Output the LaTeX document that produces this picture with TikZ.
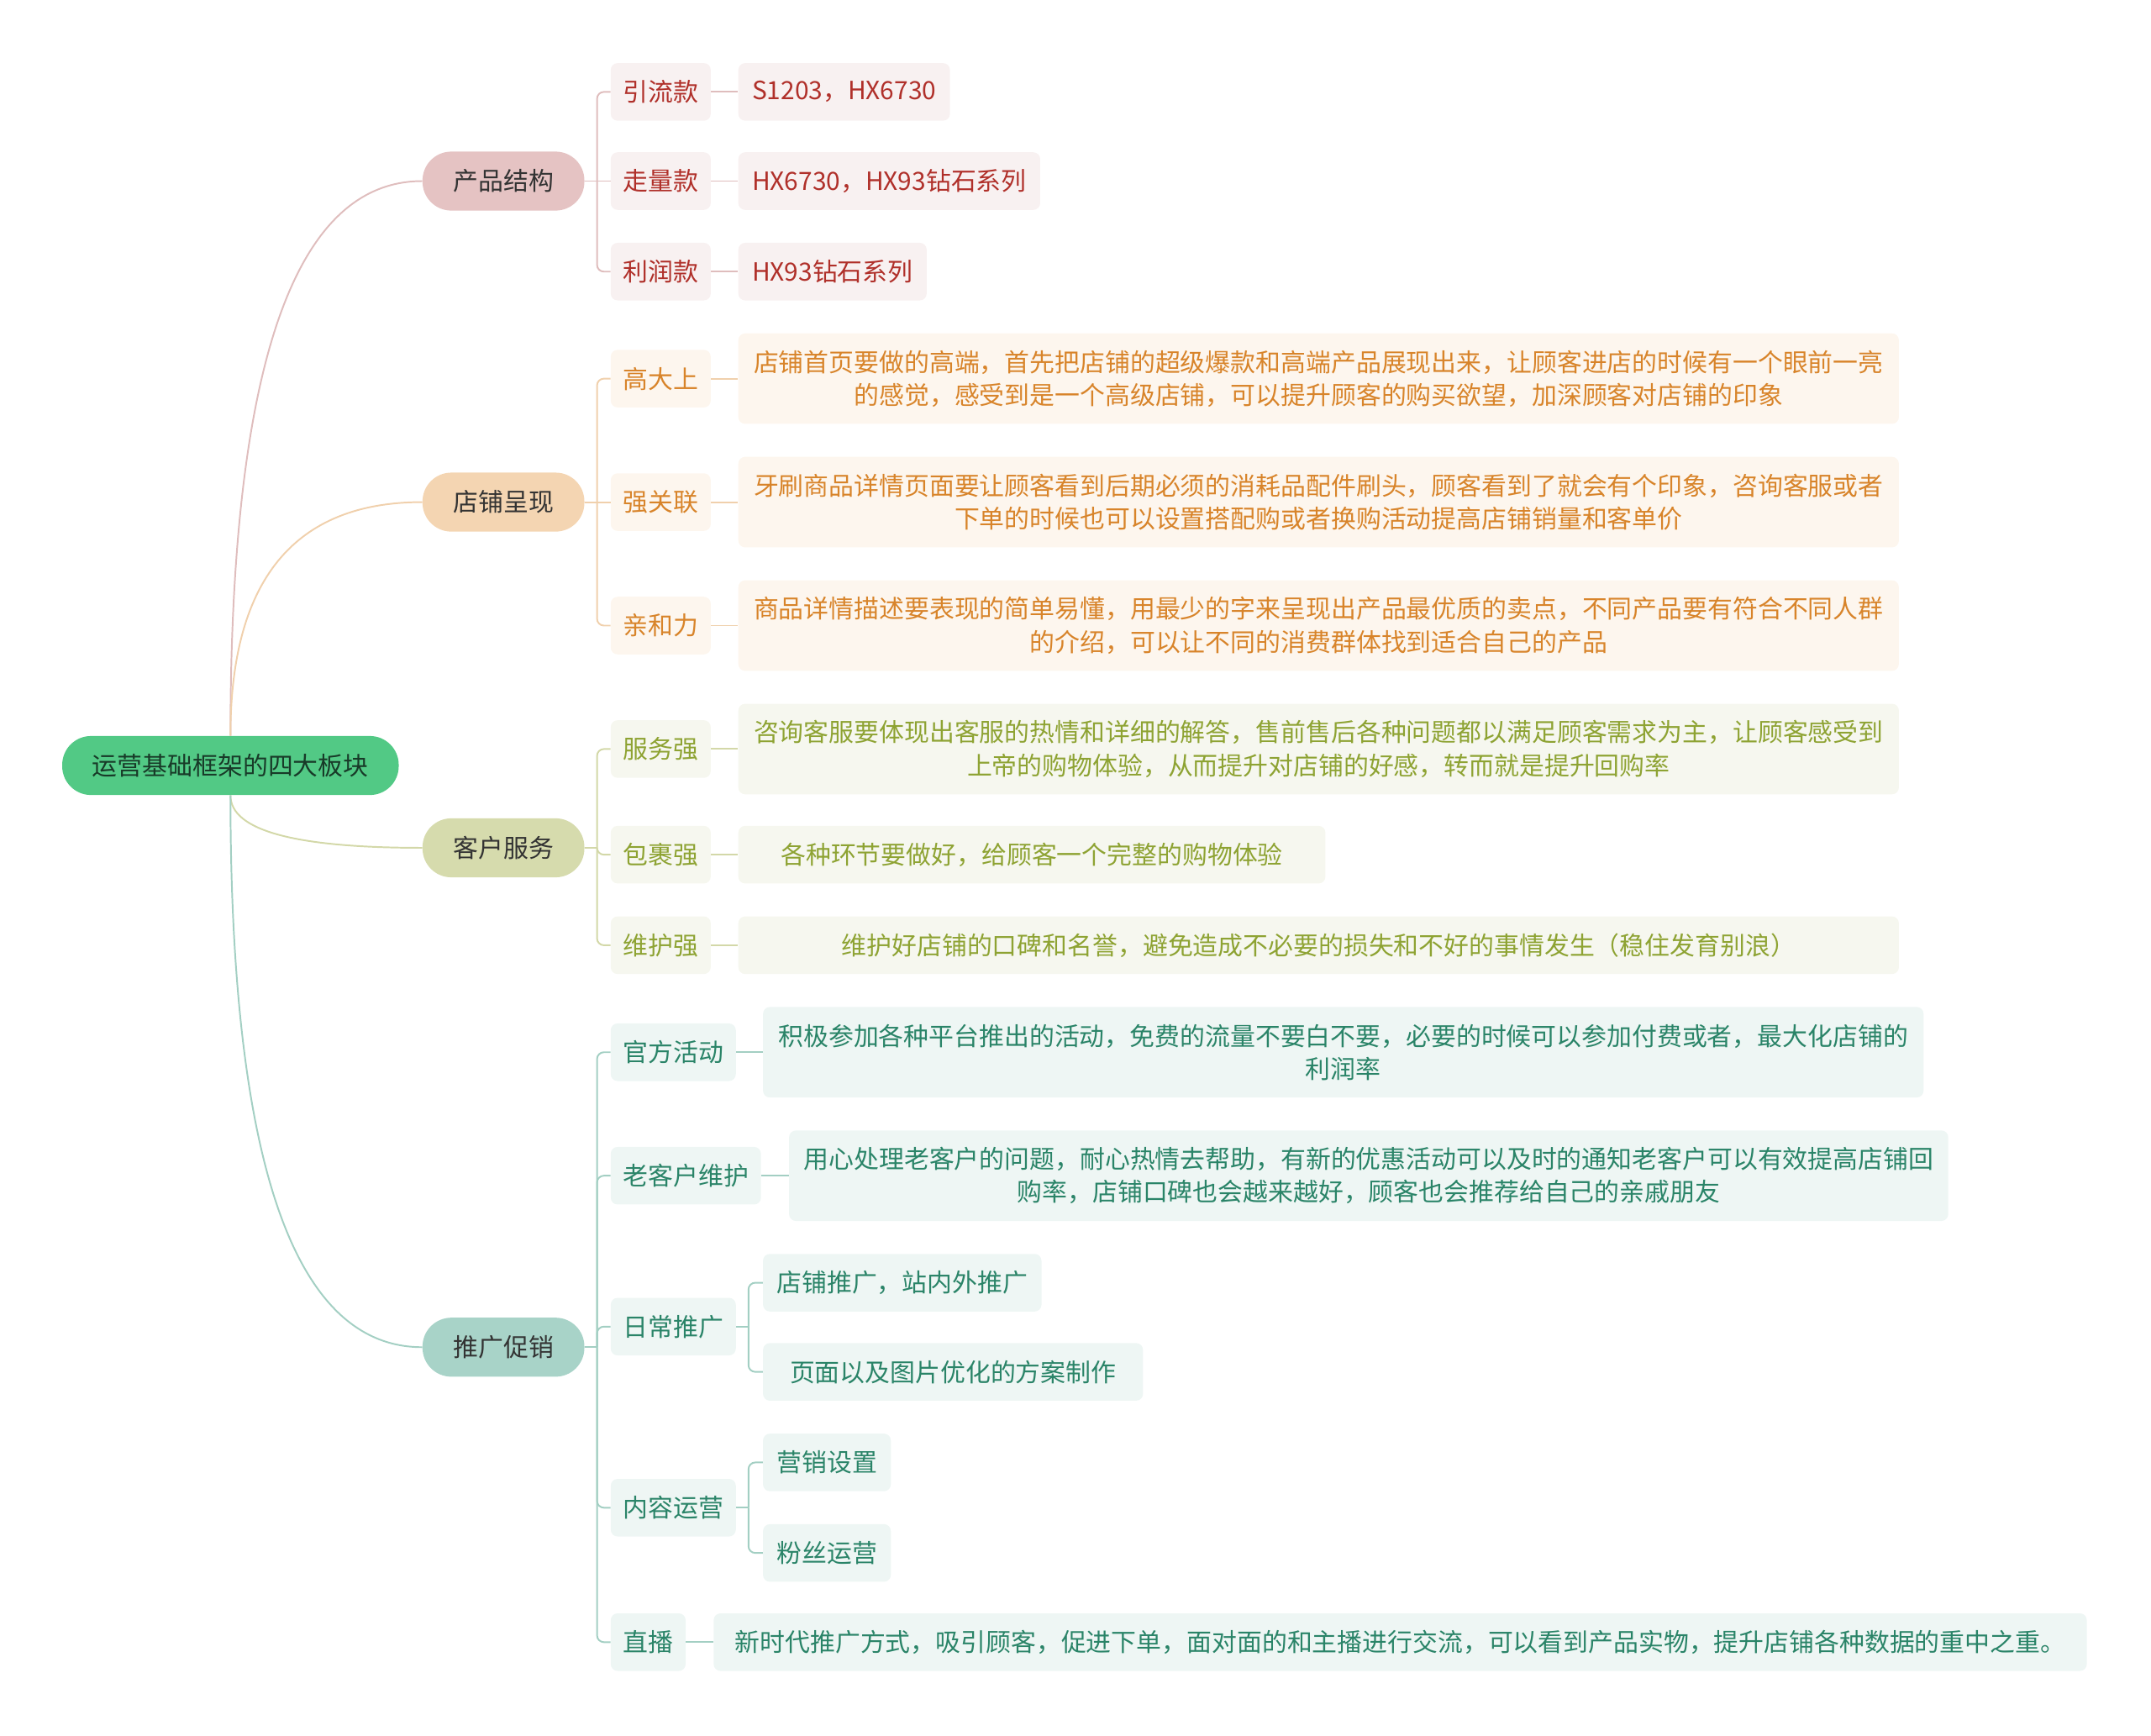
\documentclass[tikz,border=0pt]{standalone}
\usepackage{fontspec}
\setmainfont{Noto Sans CJK SC}
\usetikzlibrary{calc}

\definecolor{rootfill}{HTML}{52C985}
\definecolor{rootink}{HTML}{183A28}
\definecolor{topicink}{HTML}{333333}
% 产品结构
\definecolor{prodpill}{HTML}{E5C3C3}
\definecolor{prodink}{HTML}{B0302A}
\definecolor{prodbox}{HTML}{F8F1F1}
\definecolor{prodline}{HTML}{DFBDBD}
% 店铺呈现
\definecolor{shoppill}{HTML}{F4D5B2}
\definecolor{shopink}{HTML}{D8842A}
\definecolor{shopbox}{HTML}{FDF6EE}
\definecolor{shopline}{HTML}{F0D0AC}
% 客户服务
\definecolor{servpill}{HTML}{D6DBAD}
\definecolor{servink}{HTML}{8EA333}
\definecolor{servbox}{HTML}{F6F7EF}
\definecolor{servline}{HTML}{D3D8A8}
% 推广促销
\definecolor{prompill}{HTML}{A8D3C8}
\definecolor{promink}{HTML}{2A8468}
\definecolor{prombox}{HTML}{EEF6F4}
\definecolor{promline}{HTML}{A3CFC3}

\begin{document}
\begin{tikzpicture}[
    x=1pt, y=-1pt, font=\fontsize{18.3}{24}\selectfont,
    rootnode/.style={fill=rootfill, text=rootink, rounded corners=21pt, minimum height=43pt, inner xsep=22pt},
    topicnode/.style={text=topicink, rounded corners=21pt, minimum height=43pt, minimum width=118pt},
    subnode/.style={anchor=west, rounded corners=5pt, minimum height=42pt, inner xsep=9pt},
    leafnode/.style={subnode, inner xsep=10pt, align=center},
    widenode/.style={leafnode, minimum height=66pt},
    prodcol/.style={fill=prodbox, text=prodink},
    shopcol/.style={fill=shopbox, text=shopink},
    servcol/.style={fill=servbox, text=servink},
    promcol/.style={fill=prombox, text=promink},
    link/.style={line width=1.2pt},
    forklink/.style={link, rounded corners=5pt}
]
    \useasboundingbox (0,0) rectangle (1568,1265);

    % root and main topics
    \node[rootnode] (root) at (168,558) {运营基础框架的四大板块};
    \node[topicnode, fill=prodpill] (cpjg) at (367,132) {产品结构};
    \node[topicnode, fill=shoppill] (dpcx) at (367,366) {店铺呈现};
    \node[topicnode, fill=servpill] (khfw) at (367,618) {客户服务};
    \node[topicnode, fill=prompill] (tgcx) at (367,982) {推广促销};

    \coordinate (cpjg-c) at (root.north |- cpjg.west);
    \coordinate (dpcx-c) at (root.north |- dpcx.west);
    \coordinate (khfw-c) at (root.south |- khfw.west);
    \coordinate (tgcx-c) at (root.south |- tgcx.west);
    \draw[link, prodline] (root.north) .. controls ($(root.north)!0.667!(cpjg-c)$) and ($(cpjg.west)!0.667!(cpjg-c)$) .. (cpjg.west);
    \draw[link, shopline] (root.north) .. controls ($(root.north)!0.667!(dpcx-c)$) and ($(dpcx.west)!0.667!(dpcx-c)$) .. (dpcx.west);
    \draw[link, servline] (root.south) .. controls ($(root.south)!0.667!(khfw-c)$) and ($(khfw.west)!0.667!(khfw-c)$) .. (khfw.west);
    \draw[link, promline] (root.south) .. controls ($(root.south)!0.667!(tgcx-c)$) and ($(tgcx.west)!0.667!(tgcx-c)$) .. (tgcx.west);

    % 产品结构
    \node[subnode, prodcol] (ylk) at (445,67) {引流款};
    \node[subnode, prodcol] (zlk) at (445,132) {走量款};
    \node[subnode, prodcol] (lrk) at (445,198) {利润款};
    \node[leafnode, prodcol] (ylk-t) at (538,67) {S1203，HX6730};
    \node[leafnode, prodcol] (zlk-t) at (538,132) {HX6730，HX93钻石系列};
    \node[leafnode, prodcol] (lrk-t) at (538,198) {HX93钻石系列};

    \coordinate (cpjg-f) at ([xshift=9pt]cpjg.east);
    \draw[link, prodline] (cpjg.east) -- (zlk.west);
    \foreach \c in {ylk, lrk}
        \draw[forklink, prodline] (cpjg-f) |- (\c.west);
    \foreach \c in {ylk, zlk, lrk}
        \draw[link, prodline] (\c.east) -- (\c-t.west);

    % 店铺呈现
    \node[subnode, shopcol] (gds) at (445,276) {高大上};
    \node[subnode, shopcol] (qgl) at (445,366) {强关联};
    \node[subnode, shopcol] (qhl) at (445,456) {亲和力};
    \node[widenode, shopcol, minimum width=846pt] (gds-t) at (538,276)
        {店铺首页要做的高端，首先把店铺的超级爆款和高端产品展现出来，让顾客进店的时候有一个眼前一亮\\的感觉，感受到是一个高级店铺，可以提升顾客的购买欲望，加深顾客对店铺的印象};
    \node[widenode, shopcol, minimum width=846pt] (qgl-t) at (538,366)
        {牙刷商品详情页面要让顾客看到后期必须的消耗品配件刷头，顾客看到了就会有个印象，咨询客服或者\\下单的时候也可以设置搭配购或者换购活动提高店铺销量和客单价};
    \node[widenode, shopcol, minimum width=846pt] (qhl-t) at (538,456)
        {商品详情描述要表现的简单易懂，用最少的字来呈现出产品最优质的卖点，不同产品要有符合不同人群\\的介绍，可以让不同的消费群体找到适合自己的产品};

    \coordinate (dpcx-f) at ([xshift=9pt]dpcx.east);
    \draw[link, shopline] (dpcx.east) -- (qgl.west);
    \foreach \c in {gds, qhl}
        \draw[forklink, shopline] (dpcx-f) |- (\c.west);
    \foreach \c in {gds, qgl, qhl}
        \draw[link, shopline] (\c.east) -- (\c-t.west);

    % 客户服务
    \node[subnode, servcol] (fwq) at (445,546) {服务强};
    \node[subnode, servcol] (bgq) at (445,623) {包裹强};
    \node[subnode, servcol] (whq) at (445,689) {维护强};
    \node[widenode, servcol, minimum width=846pt] (fwq-t) at (538,546)
        {咨询客服要体现出客服的热情和详细的解答，售前售后各种问题都以满足顾客需求为主，让顾客感受到\\上帝的购物体验，从而提升对店铺的好感，转而就是提升回购率};
    \node[leafnode, servcol, minimum width=428pt] (bgq-t) at (538,623)
        {各种环节要做好，给顾客一个完整的购物体验};
    \node[leafnode, servcol, minimum width=846pt] (whq-t) at (538,689)
        {维护好店铺的口碑和名誉，避免造成不必要的损失和不好的事情发生（稳住发育别浪）};

    \coordinate (khfw-f) at ([xshift=9pt]khfw.east);
    \draw[link, servline] (khfw.east) -- (khfw-f);
    \foreach \c in {fwq, bgq, whq}
        \draw[forklink, servline] (khfw-f) |- (\c.west);
    \foreach \c in {fwq, bgq, whq}
        \draw[link, servline] (\c.east) -- (\c-t.west);

    % 推广促销
    \node[subnode, promcol] (gfhd) at (445,767) {官方活动};
    \node[subnode, promcol] (lkh) at (445,857) {老客户维护};
    \node[subnode, promcol] (rctg) at (445,967) {日常推广};
    \node[subnode, promcol] (nryy) at (445,1099) {内容运营};
    \node[subnode, promcol] (zb) at (445,1197) {直播};
    \node[widenode, promcol, minimum width=846pt] (gfhd-t) at (556,767)
        {积极参加各种平台推出的活动，免费的流量不要白不要，必要的时候可以参加付费或者，最大化店铺的\\利润率};
    \node[widenode, promcol, minimum width=845pt] (lkh-t) at (575,857)
        {用心处理老客户的问题，耐心热情去帮助，有新的优惠活动可以及时的通知老客户可以有效提高店铺回\\购率，店铺口碑也会越来越好，顾客也会推荐给自己的亲戚朋友};
    \node[leafnode, promcol] (dptg) at (556,935) {店铺推广，站内外推广};
    \node[leafnode, promcol, minimum width=277pt] (ymyh) at (556,1000) {页面以及图片优化的方案制作};
    \node[leafnode, promcol] (yxsz) at (556,1066) {营销设置};
    \node[leafnode, promcol] (fsyy) at (556,1132) {粉丝运营};
    \node[leafnode, promcol, minimum width=1001pt] (zb-t) at (520,1197)
        {新时代推广方式，吸引顾客，促进下单，面对面的和主播进行交流，可以看到产品实物，提升店铺各种数据的重中之重。};

    \coordinate (tgcx-f) at ([xshift=9pt]tgcx.east);
    \draw[link, promline] (tgcx.east) -- (tgcx-f);
    \foreach \c in {gfhd, lkh, rctg, nryy, zb}
        \draw[forklink, promline] (tgcx-f) |- (\c.west);
    \foreach \c in {gfhd, lkh, zb}
        \draw[link, promline] (\c.east) -- (\c-t.west);

    \coordinate (rctg-f) at ([xshift=9pt]rctg.east);
    \draw[link, promline] (rctg.east) -- (rctg-f);
    \foreach \c in {dptg, ymyh}
        \draw[forklink, promline] (rctg-f) |- (\c.west);

    \coordinate (nryy-f) at ([xshift=9pt]nryy.east);
    \draw[link, promline] (nryy.east) -- (nryy-f);
    \foreach \c in {yxsz, fsyy}
        \draw[forklink, promline] (nryy-f) |- (\c.west);
\end{tikzpicture}
\end{document}
